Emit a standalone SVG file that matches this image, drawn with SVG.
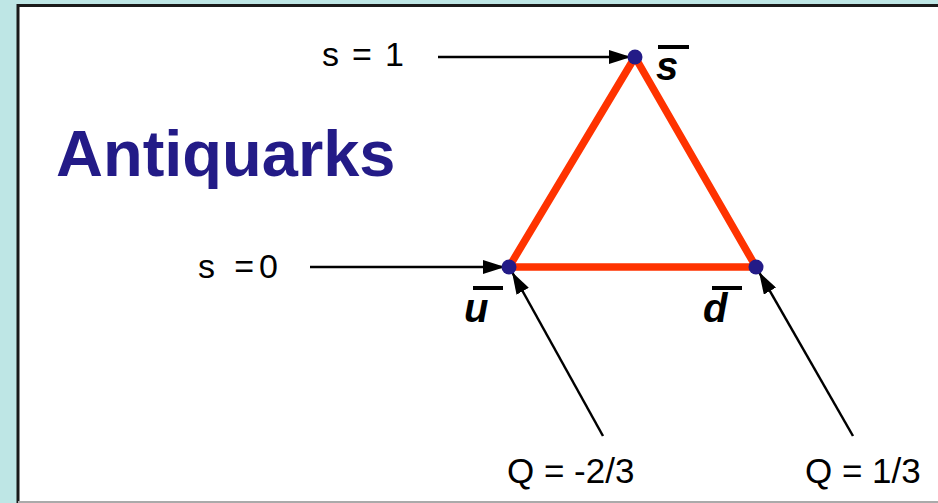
<svg xmlns="http://www.w3.org/2000/svg" width="938" height="503" viewBox="0 0 938 503">
<defs>
<marker id="ah" viewBox="0 0 22 14" refX="22" refY="7" markerWidth="22" markerHeight="14" markerUnits="userSpaceOnUse" orient="auto">
<path d="M0,0 L22,7 L0,14 Z" fill="#000"/>
</marker>
<style>
.lbl{font-family:"Liberation Sans",Arial,sans-serif;font-size:34px;fill:#000}
.q{font-family:"Liberation Sans",Arial,sans-serif;font-size:35px;fill:#000}
.qk{font-family:"Liberation Sans",Arial,sans-serif;font-size:40px;font-weight:bold;font-style:italic;fill:#000}
.bar{stroke:#000;stroke-width:4}
.conn{stroke:#000;stroke-width:2.5;fill:none;marker-end:url(#ah)}
.edge{stroke:#ff3300;stroke-width:7.5;fill:none;stroke-linejoin:round}
.dot{fill:#231b87}
</style>
</defs>
<rect x="0" y="0" width="938" height="503" fill="#bee6e5"/>
<rect x="18" y="5.5" width="930" height="496" fill="#fff"/>
<path d="M18,503 L18,5.5 L938,5.5" stroke="#1a1a1a" stroke-width="3" fill="none"/>
<line x1="18" y1="502" x2="938" y2="502" stroke="#aaa" stroke-width="2"/>
<text x="56" y="176" font-family="'Liberation Sans',Arial,sans-serif" font-size="65" font-weight="bold" fill="#231b87">Antiquarks</text>
<g id="triangle">
<path class="edge" d="M635,57 L509,267 L756,267 Z"/>
</g>
<g id="connectors">
<line class="conn" x1="438" y1="57" x2="631" y2="57"/>
<line class="conn" x1="310" y1="267" x2="505" y2="267"/>
<line class="conn" x1="603" y1="436" x2="512" y2="272"/>
<line class="conn" x1="853" y1="436" x2="759" y2="272"/>
</g>
<g id="node-sbar">
<circle class="dot" cx="635" cy="57" r="7.5"/>
<line class="bar" x1="658" y1="47" x2="689" y2="47"/>
<text class="qk" x="656" y="80">s</text>
</g>
<g id="node-ubar">
<circle class="dot" cx="509" cy="267" r="7.5"/>
<line class="bar" x1="473" y1="288" x2="503" y2="288"/>
<text class="qk" x="464" y="322">u</text>
</g>
<g id="node-dbar">
<circle class="dot" cx="756" cy="267" r="7.5"/>
<line class="bar" x1="712" y1="288" x2="742" y2="288"/>
<text class="qk" x="703" y="322">d</text>
</g>
<g id="label-s1"><text class="lbl" x="322" y="66" textLength="82" lengthAdjust="spacing">s = 1</text></g>
<g id="label-s0"><text class="lbl" x="198" y="278" textLength="80" lengthAdjust="spacing">s =0</text></g>
<g id="label-q1"><text class="q" x="507" y="483">Q = -2/3</text></g>
<g id="label-q2"><text class="q" x="805" y="483">Q = 1/3</text></g>
</svg>
